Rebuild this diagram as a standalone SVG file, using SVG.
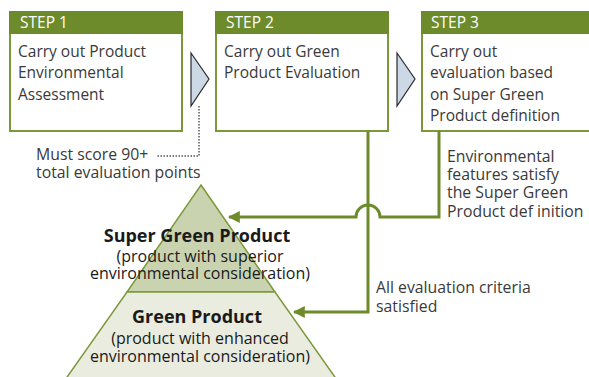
<svg xmlns="http://www.w3.org/2000/svg" width="589" height="377" viewBox="0 0 589 377">
<defs>
<style>
.hdr{fill:#6e8b2c;stroke:#6e8b2c;stroke-width:2}
.body{fill:#fff;stroke:#7d9838;stroke-width:2}
.ht{font-family:"Open Sans","Liberation Sans",sans-serif;font-size:15.5px;fill:#fff}
.bt{font-family:"Open Sans","Liberation Sans",sans-serif;font-size:15.5px;fill:#3a3a3a}
.st{font-family:"Open Sans","Liberation Sans",sans-serif;font-size:15.8px;fill:#3a3a3a}
.pb{font-family:"Open Sans","Liberation Sans",sans-serif;font-size:18px;font-weight:bold;fill:#1a1a1a;text-anchor:middle}
.pt{font-family:"Open Sans","Liberation Sans",sans-serif;font-size:16px;fill:#1a1a1a;text-anchor:middle}
.tri{fill:#cdd8e6;stroke:#2a2a2a;stroke-width:1.2}
.conn{fill:none;stroke:#6e8b2c;stroke-width:3}
.dot{fill:none;stroke:#555;stroke-width:1.5;stroke-dasharray:1.5 1.5}
</style>
<marker id="ah" viewBox="0 0 10 10" refX="9" refY="5" markerWidth="4" markerHeight="4" orient="auto" markerUnits="strokeWidth">
<path d="M0,0 L10,5 L0,10 z" fill="#6e8b2c"/>
</marker>
</defs>

<g id="pyramid">
<polygon points="201,185 275,292 127,292" fill="#c9d3b0" stroke="#7d9838" stroke-width="1.5"/>
<polygon points="127,292 275,292 337,380 65,380" fill="#e9ecdf" stroke="#7d9838" stroke-width="1.5"/>
</g>

<g id="super-green">
<text class="pb" x="197" y="242">Super Green Product</text>
<text class="pt" x="200" y="262">(product with superior</text>
<text class="pt" x="200" y="279">environmental consideration)</text>
</g>

<g id="green">
<text class="pb" x="197" y="323">Green Product</text>
<text class="pt" x="200" y="344">(product with enhanced</text>
<text class="pt" x="200" y="362">environmental consideration)</text>
</g>

<g id="step1">
<rect class="body" x="10" y="33" width="172" height="98"/>
<rect class="hdr" x="10" y="12" width="172" height="21"/>
<text class="ht" x="20" y="28">STEP 1</text>
<text class="bt" x="18" y="57">Carry out Product</text>
<text class="bt" x="18" y="78">Environmental</text>
<text class="bt" x="18" y="100">Assessment</text>
</g>

<g id="step2">
<rect class="body" x="216" y="33" width="172" height="98"/>
<rect class="hdr" x="216" y="12" width="172" height="21"/>
<text class="ht" x="226" y="28">STEP 2</text>
<text class="bt" x="224" y="57">Carry out Green</text>
<text class="bt" x="224" y="78">Product Evaluation</text>
</g>

<g id="step3">
<rect class="body" x="422" y="33" width="170" height="98"/>
<rect class="hdr" x="422" y="12" width="170" height="21"/>
<text class="ht" x="431" y="28">STEP 3</text>
<text class="bt" x="430" y="57">Carry out</text>
<text class="bt" x="430" y="78">evaluation based</text>
<text class="bt" x="430" y="100">on Super Green</text>
<text class="bt" x="430" y="121">Product definition</text>
</g>

<g id="arrow1"><polygon class="tri" points="191,53 209,79 191,106"/></g>
<g id="arrow2"><polygon class="tri" points="397,53 415,79 397,106"/></g>

<g id="note-score">
<text class="st" x="36" y="160">Must score 90+</text>
<text class="st" x="36" y="178">total evaluation points</text>
</g>

<g id="note-env">
<text class="st" x="447" y="162">Environmental</text>
<text class="st" x="447" y="180">features satisfy</text>
<text class="st" x="447" y="198">the Super Green</text>
<text class="st" x="447" y="217">Product def inition</text>
</g>

<g id="note-all">
<text class="st" x="376" y="293">All evaluation criteria</text>
<text class="st" x="376" y="312">satisfied</text>
</g>

<g id="connectors">
<path class="dot" d="M199,106 V156 H157"/>
<path class="conn" d="M368,131 V312 H294" marker-end="url(#ah)"/>
<path class="conn" d="M439,131 V217 H380 A12,12 0 0 0 356,217 H229" marker-end="url(#ah)"/>
</g>
</svg>
